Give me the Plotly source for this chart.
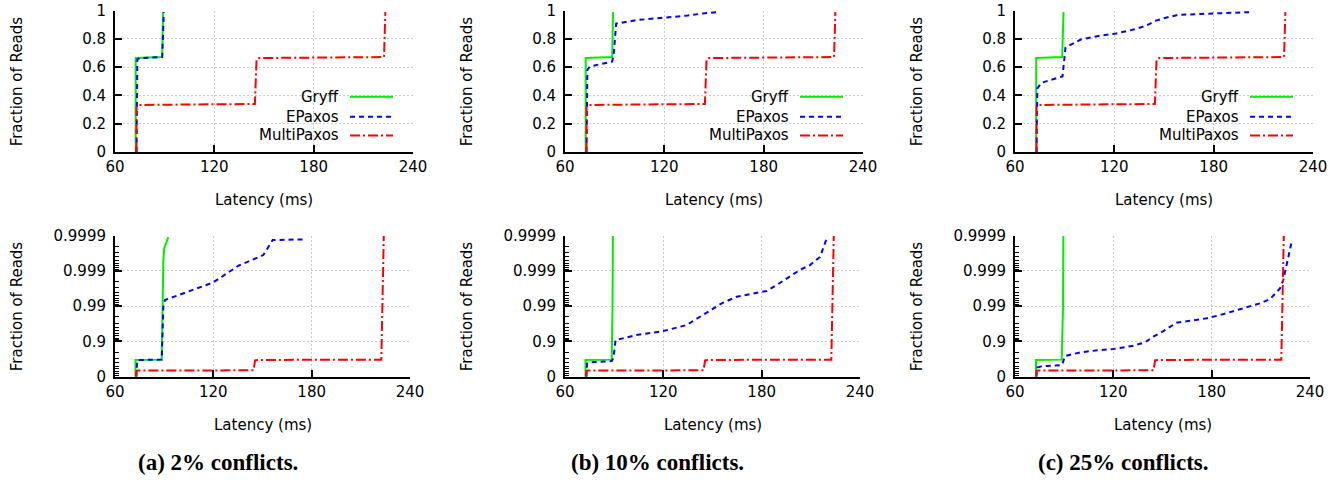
import numpy as np
import plotly.graph_objects as go

# ---------------- data ----------------
X_RANGE = [60, 240]
X_TICKS = [60, 120, 180, 240]
CDF_TICKS = [0, 0.2, 0.4, 0.6, 0.8, 1]
CDF_TICKTEXT = ["0", "0.2", "0.4", "0.6", "0.8", "1"]
TAIL_TICKS_P = [0, 0.9, 0.99, 0.999, 0.9999]
TAIL_TICKTEXT = ["0", "0.9", "0.99", "0.999", "0.9999"]
TOP_CUTOFF = 0.99

SYSTEMS = ["Gryff", "EPaxos", "MultiPaxos"]
CAPTIONS = ["(a) 2% conflicts.", "(b) 10% conflicts.", "(c) 25% conflicts."]

# 2% conflicts
gryff_2_lat = [72.5, 72.5, 88.5, 89.0, 89.5, 90.0, 92.5]
gryff_2_frac = [0, 0.665, 0.672, 0.99, 0.9995, 0.99977, 0.99989]
epaxos_2_lat = [73.0, 73.5, 75.0, 88.5, 89.5, 90.5, 120.0, 135.3, 150.5, 156.2, 176.0]
epaxos_2_frac = [0, 0.655, 0.665, 0.672, 0.9897, 0.99332, 0.99789, 0.99929, 0.999646, 0.999867, 0.999873]
multi_2_lat = [73.0, 73.0, 74.0, 144.5, 145.5, 147.0, 222.5, 223.3, 223.6, 224.0]
multi_2_frac = [0, 0.32, 0.333, 0.34, 0.655, 0.665, 0.672, 0.99, 0.999, 0.9999]

# 10% conflicts
gryff_10_lat = [72.5, 72.5, 88.5, 89.0, 89.2]
gryff_10_frac = [0, 0.665, 0.672, 0.99, 0.9999]
epaxos_10_lat = [73.0, 73.5, 75.0, 88.5, 89.5, 90.9, 103.7, 120.0, 134.2, 144.4, 152.5, 155.6,
                 164.8, 172.9, 183.1, 189.2, 195.3, 203.4, 209.5, 215.6, 219.7]
epaxos_10_frac = [0, 0.58, 0.605, 0.64, 0.70, 0.9088, 0.9342, 0.9494, 0.9658, 0.9822, 0.9897, 0.9917,
                  0.9946, 0.9954, 0.9963, 0.9975, 0.99838, 0.99907, 0.99932, 0.9996, 0.99988]
multi_10_lat = [73.0, 73.0, 74.0, 144.5, 145.5, 147.0, 222.5, 223.3, 223.6, 224.0]
multi_10_frac = [0, 0.32, 0.333, 0.34, 0.655, 0.665, 0.672, 0.99, 0.999, 0.9999]

# 25% conflicts
gryff_25_lat = [72.8, 72.8, 88.5, 89.3, 89.5]
gryff_25_frac = [0, 0.665, 0.672, 0.99, 0.9999]
epaxos_25_lat = [73.0, 73.5, 76.0, 88.7, 90.5, 99.7, 111.9, 120.0, 132.2, 139.3, 144.4, 150.5, 158.6,
                 168.8, 177.0, 185.1, 193.2, 201.4, 209.5, 215.6, 221.7, 223.7, 225.8, 226.8, 228.8]
epaxos_25_frac = [0, 0.45, 0.49, 0.535, 0.74, 0.796, 0.825, 0.836, 0.868, 0.894, 0.927, 0.949, 0.9706,
                  0.9753, 0.9779, 0.9822, 0.9863, 0.9897, 0.9917, 0.9937, 0.99688, 0.99819, 0.99932,
                  0.99956, 0.99985]
multi_25_lat = [73.0, 73.0, 74.0, 144.5, 145.5, 147.0, 222.5, 223.3, 223.6, 224.0]
multi_25_frac = [0, 0.32, 0.333, 0.34, 0.655, 0.665, 0.672, 0.99, 0.999, 0.9999]

PANELS = [
    {"Gryff": (gryff_2_lat, gryff_2_frac), "EPaxos": (epaxos_2_lat, epaxos_2_frac),
     "MultiPaxos": (multi_2_lat, multi_2_frac)},
    {"Gryff": (gryff_10_lat, gryff_10_frac), "EPaxos": (epaxos_10_lat, epaxos_10_frac),
     "MultiPaxos": (multi_10_lat, multi_10_frac)},
    {"Gryff": (gryff_25_lat, gryff_25_frac), "EPaxos": (epaxos_25_lat, epaxos_25_frac),
     "MultiPaxos": (multi_25_lat, multi_25_frac)},
]

# ---------------- styling ----------------
W, H = 1344, 480
STYLE = {
    "Gryff": dict(color="#00ee00", width=2, dash="solid"),
    "EPaxos": dict(color="#0000ff", width=2, dash="5px,4px"),
    "MultiPaxos": dict(color="#ff0000", width=2, dash="10px,3px,2px,3px"),
}
FONT = "DejaVu Sans"
TICKFONT = dict(family=FONT, size=15, color="black")
GRID = dict(showgrid=True, gridcolor="#cccccc", griddash="2px,2px", gridwidth=1)


def px(x):
    return x / W


def py(y):
    return 1 - y / H


def tail(p):
    p = np.asarray(p, dtype=float)
    return -np.log10(1 - p)


COL_OFF = [0, 450, 900]
TOP_Y = (10.7, 152.0)
BOT_Y = (235.7, 376.7)

fig = go.Figure()
layout = {}
annotations = []
shapes = []

tail_minor = []
for k in range(4):
    for m in range(2, 10):
        tail_minor.append(float(tail(1 - m * 10.0 ** (-(k + 1)))))

for c in range(3):
    off = COL_OFF[c]
    top_idx = 2 * c + 1
    bot_idx = 2 * c + 2
    for idx, row in ((top_idx, "top"), (bot_idx, "bot")):
        xa = "xaxis" if idx == 1 else f"xaxis{idx}"
        ya = "yaxis" if idx == 1 else f"yaxis{idx}"
        right = 413 if row == "top" else 410
        yy = TOP_Y if row == "top" else BOT_Y
        layout[xa] = dict(
            domain=[px(115 + off), px(right + off)], range=X_RANGE, anchor=f"y{idx}",
            tickvals=X_TICKS, ticks="inside", ticklen=7, tickwidth=1.5, tickcolor="black",
            showline=True, linecolor="black", linewidth=2, tickfont=TICKFONT,
            zeroline=False, automargin=False, fixedrange=True, **GRID,
        )
        yd = dict(
            domain=[py(yy[1]), py(yy[0])], anchor=f"x{idx}",
            ticks="inside", ticklen=7, tickwidth=1.5, tickcolor="black",
            showline=True, linecolor="black", linewidth=2, tickfont=TICKFONT,
            zeroline=False, ticklabelstandoff=4, automargin=False, fixedrange=True, **GRID,
        )
        if row == "top":
            yd.update(range=[0, 1], tickvals=CDF_TICKS, ticktext=CDF_TICKTEXT)
        else:
            yd.update(range=[0, 4], tickvals=list(tail(TAIL_TICKS_P)), ticktext=TAIL_TICKTEXT,
                      minor=dict(tickmode="array", tickvals=tail_minor, ticks="inside",
                                 ticklen=4, tickwidth=1, tickcolor="black", showgrid=False))
        layout[ya] = yd

        for name in SYSTEMS:
            lat, frac = PANELS[c][name]
            lat = np.asarray(lat, dtype=float)
            frac = np.asarray(frac, dtype=float)
            if row == "top":
                keep = frac <= TOP_CUTOFF + 1e-9
                xs, ys = lat[keep], frac[keep]
            else:
                xs, ys = lat, tail(frac)
            fig.add_trace(go.Scatter(
                x=xs, y=ys, mode="lines", name=name, showlegend=False, hoverinfo="skip",
                line=STYLE[name], xaxis=f"x{idx}", yaxis=f"y{idx}",
            ))

        # axis titles
        annotations.append(dict(
            text="Fraction of Reads", textangle=-90, x=px(17 + off), y=py((yy[0] + yy[1]) / 2),
            xref="paper", yref="paper", showarrow=False, xanchor="center", yanchor="middle",
            font=dict(family=FONT, size=15, color="black"),
        ))
        annotations.append(dict(
            text="Latency (ms)", x=px((115 + right) / 2 + off),
            y=py(200 if row == "top" else 425),
            xref="paper", yref="paper", showarrow=False, xanchor="center", yanchor="middle",
            font=dict(family=FONT, size=15, color="black"),
        ))

    # legend drawn inside top panel (text left of line sample)
    for i, name in enumerate(SYSTEMS):
        ly = [96.7, 116.7, 135.5][i]
        annotations.append(dict(
            text=name, x=px(341 + off), y=py(ly), xref="paper", yref="paper",
            showarrow=False, xanchor="right", yanchor="middle",
            font=dict(family=FONT, size=15, color="black"),
        ))
        st = STYLE[name]
        shapes.append(dict(
            type="line", xref="paper", yref="paper",
            x0=px(350 + off), x1=px(393 + off), y0=py(ly), y1=py(ly),
            line=dict(color=st["color"], width=st["width"], dash=st["dash"]),
        ))

    # caption
    annotations.append(dict(
        text="<b>" + CAPTIONS[c] + "</b>", x=px([218, 657, 1123][c]), y=py(462),
        xref="paper", yref="paper", showarrow=False, xanchor="center", yanchor="middle",
        font=dict(family="Liberation Serif", size=23, color="black"),
    ))

fig.update_layout(
    width=W, height=H, margin=dict(l=0, r=0, t=0, b=0, pad=0),
    paper_bgcolor="white", plot_bgcolor="white",
    annotations=annotations, shapes=shapes, showlegend=False,
    **layout,
)

fig.write_html(
    "out.html",
    config={"displayModeBar": False, "responsive": False},
    post_script="document.body.style.margin='0px';document.body.style.padding='0px';"
                "document.documentElement.style.overflow='hidden';",
)
